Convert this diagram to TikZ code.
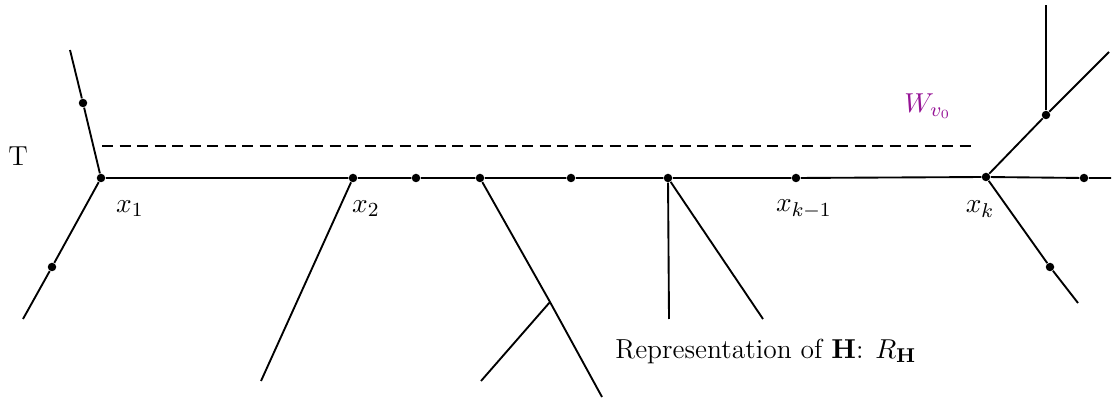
\documentclass[tikz,border=0pt]{standalone}
\usepackage{amsmath}
\usetikzlibrary{positioning, calc}
\definecolor{wC}{RGB}{150, 20, 150}
\tikzset{
  dot/.style   = {circle, fill=black, inner sep=0pt, minimum size=3.4pt},
  edge/.style  = {line width=0.75pt, color=black},
  walk/.style  = {line width=1.1pt, dash pattern=on 4.4pt off 2.6pt},
  lbl/.style   = {font=\fontsize{11}{13}\selectfont, inner sep=1pt},
}

\begin{document}
\begin{tikzpicture}[x=0.4pt, y=-0.4pt]
\useasboundingbox (0,0) rectangle (1113,398);

% ---- Vertices on the spine --------------------------------------------------
\node[dot] (X1)  at (101,178) {};
\node[dot] (X2)  at (353,178) {};
\node[dot] (P1)  at (416,178) {};
\node[dot] (P2)  at (480,178) {};
\node[dot] (P3)  at (571,178) {};
\node[dot] (P4)  at (668,178) {};
\node[dot] (XK1) at (796,178) {};
\node[dot] (XK)  at (986,177) {};
\node[dot] (P5)  at (1084,178) {};

% ---- Other vertices ---------------------------------------------------------
\node[dot] (L1) at (83,103) {};
\node[dot] (L2) at (52,267) {};
\node[dot] (R1) at (1046,115) {};
\node[dot] (R2) at (1050,267) {};

% ---- Free ends --------------------------------------------------------------
\coordinate (LT)  at (70,50);
\coordinate (LB)  at (23,319);
\coordinate (RE)  at (1111,178);
\coordinate (RT)  at (1109,52);
\coordinate (RV)  at (1046,5);
\coordinate (RB)  at (1078,303);
\coordinate (B2)  at (261,381);
\coordinate (BJ)  at (550,302);
\coordinate (B3)  at (602,397);
\coordinate (B3a) at (481,381);
\coordinate (B4a) at (669,319);
\coordinate (B4b) at (763,319);
\coordinate (WS)  at (102,146);
\coordinate (WE)  at (976,146);

% ---- Edges ------------------------------------------------------------------
\draw[edge] (X1) -- (X2) -- (P1) -- (P2) -- (P3) -- (P4) -- (XK1) -- (XK) -- (P5) -- (RE);
\draw[edge] (X1) -- (L1) -- (LT);
\draw[edge] (X1) -- (L2) -- (LB);
\draw[edge] (X2) -- (B2);
\draw[edge] (P2) -- (BJ) -- (B3);
\draw[edge] (BJ) -- (B3a);
\draw[edge] (P4) -- (B4a);
\draw[edge] (P4) -- (B4b);
\draw[edge] (XK) -- (R1) -- (RT);
\draw[edge] (R1) -- (RV);
\draw[edge] (XK) -- (R2) -- (RB);

% ---- Walk -------------------------------------------------------------------
\draw[walk] (WS) -- (WE);

% ---- Labels -----------------------------------------------------------------
\node[lbl] (T)    at (18,156)  {T};
\node[lbl] (LX1)  at (130,209) {$x_1$};
\node[lbl] (LX2)  at (366,209) {$x_2$};
\node[lbl] (LXK1) at (804,209) {$x_{k-1}$};
\node[lbl] (LXK)  at (980,209) {$x_k$};
\node[lbl, text=wC] (W) at (928,106) {$W_{v_0}$};
\node[lbl] (RH)   at (766,351) {Representation of $\mathbf{H}$: $R_{\mathbf{H}}$};

\end{tikzpicture}
\end{document}
